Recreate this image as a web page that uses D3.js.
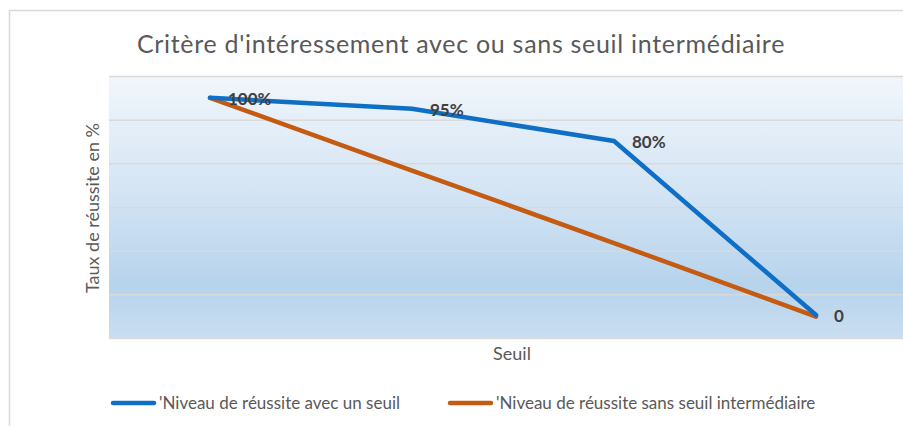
<!DOCTYPE html>
<html lang="fr">
  <head>
    <meta charset="utf-8">
    <title>Critère d'intéressement</title>
    <script src="https://d3js.org/d3.v7.js"></script>
    <style>
      body { margin: 0; background: white; }
      text { font-family: Lato, "Open Sans", sans-serif; }
    </style>
  </head>
  <body>
  <script>

  // data
  var categories = ["100%", "95%", "80%", "0"];
  var avecSeuil = [110, 105, 90.2, 10.5];
  var sansSeuil = [110, 76.7, 43.5, 9.8];
  var seriesNames = ["'Niveau de réussite avec un seuil", "'Niveau de réussite sans seuil intermédiaire"];
  var yTicks = [0, 20, 40, 60, 80, 100, 120];

  var w = 903, h = 426;
  var plot = {left: 109, top: 76, right: 917, bottom: 338};

  var svg = d3.select("body").append("svg")
      .attr("width", w)
      .attr("height", h);

  // gradient for plot area
  var grad = svg.append("defs").append("linearGradient")
      .attr("id", "bg")
      .attr("x1", 0).attr("y1", 0).attr("x2", 0).attr("y2", 1);
  grad.append("stop").attr("offset", "0%").attr("stop-color", "#f1f6fb");
  grad.append("stop").attr("offset", "45%").attr("stop-color", "#d3e4f4");
  grad.append("stop").attr("offset", "80%").attr("stop-color", "#b6d3ec");
  grad.append("stop").attr("offset", "100%").attr("stop-color", "#cadef1");

  // chart frame
  svg.append("rect")
      .attr("x", 9.5).attr("y", 10.5)
      .attr("width", 1000).attr("height", 1000)
      .attr("fill", "white")
      .attr("stroke", "#d9d9d9")
      .attr("stroke-width", 1.5);

  var xScale = d3.scaleBand()
      .domain(categories)
      .range([plot.left, plot.right]);

  var yScale = d3.scaleLinear()
      .domain([0, 120])
      .range([plot.bottom, plot.top]);

  svg.append("rect")
      .attr("x", plot.left).attr("y", plot.top)
      .attr("width", plot.right - plot.left)
      .attr("height", plot.bottom - plot.top)
      .attr("fill", "url(#bg)");

  // gridlines
  svg.append("g")
      .attr("transform", `translate(${plot.left},0)`)
      .call(d3.axisLeft(yScale).tickValues(yTicks).tickSize(-(plot.right - plot.left)).tickFormat(""))
      .call(g => g.select(".domain").remove())
      .call(g => g.selectAll("line").attr("stroke", "#d9d9d9").attr("stroke-width", 1.5));

  var line = d3.line()
      .x((d, i) => xScale(categories[i]) + xScale.bandwidth() / 2)
      .y(d => yScale(d));

  svg.append("path")
      .datum(sansSeuil)
      .attr("d", line)
      .attr("fill", "none")
      .attr("stroke", "#c55a11")
      .attr("stroke-width", 4.5)
      .attr("stroke-linejoin", "round")
      .attr("stroke-linecap", "round");

  svg.append("path")
      .datum(avecSeuil)
      .attr("d", line)
      .attr("fill", "none")
      .attr("stroke", "#0f6fc6")
      .attr("stroke-width", 4.5)
      .attr("stroke-linejoin", "round")
      .attr("stroke-linecap", "round");

  // data labels (category names, right of the blue points)
  svg.selectAll(".val-label")
      .data(avecSeuil)
      .join("text")
      .attr("class", "val-label")
      .attr("x", (d, i) => xScale(categories[i]) + xScale.bandwidth() / 2 + 18)
      .attr("y", (d, i) => yScale(d) + 7)
      .attr("fill", "#404040")
      .style("font-size", "17px")
      .style("font-weight", "bold")
      .text((d, i) => categories[i]);

  // title and axis titles
  svg.append("text")
      .attr("x", 461).attr("y", 53)
      .attr("text-anchor", "middle")
      .attr("fill", "#595959")
      .style("font-size", "25px")
      .style("letter-spacing", "0.7px")
      .text("Critère d'intéressement avec ou sans seuil intermédiaire");

  svg.append("text")
      .attr("transform", "translate(99,208) rotate(-90)")
      .attr("text-anchor", "middle")
      .attr("fill", "#595959")
      .style("font-size", "18px")
      .text("Taux de réussite en %");

  svg.append("text")
      .attr("x", 512).attr("y", 360)
      .attr("text-anchor", "middle")
      .attr("fill", "#595959")
      .style("font-size", "18px")
      .text("Seuil");

  // legend
  var legendX = [113, 450];
  var colors = ["#0f6fc6", "#c55a11"];
  var legend = svg.selectAll(".legend")
      .data(seriesNames)
      .join("g")
      .attr("class", "legend")
      .attr("transform", (d, i) => `translate(${legendX[i]},403)`);
  legend.append("line")
      .attr("x1", 0).attr("x2", 41)
      .attr("stroke", (d, i) => colors[i])
      .attr("stroke-width", 4.5)
      .attr("stroke-linecap", "round");
  legend.append("text")
      .attr("x", 46).attr("y", 6)
      .attr("fill", "#595959")
      .style("font-size", "17px")
      .text(d => d);

  </script>
  </body>
</html>
